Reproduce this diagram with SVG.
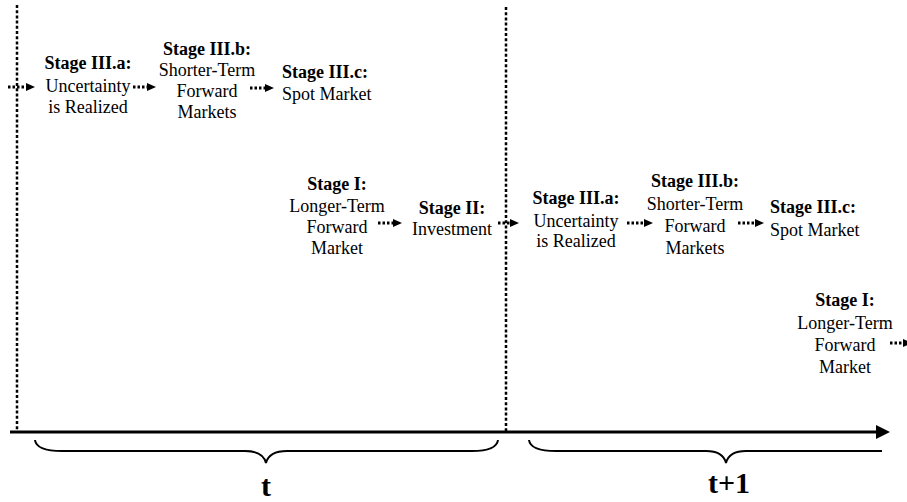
<svg xmlns="http://www.w3.org/2000/svg" width="907" height="502" viewBox="0 0 907 502" font-family="'Liberation Serif', 'Times New Roman', Times, serif">
<defs>
<style>
text{font-family:'Liberation Serif','Times New Roman',Times,serif;font-size:18px;fill:#000}
.b{font-weight:bold}
.c{text-anchor:middle}
.big{font-size:30px;font-weight:bold;text-anchor:middle}
.arr{stroke:#000;stroke-width:3;stroke-dasharray:2.5 2;fill:none}
.vdiv{stroke:#000;stroke-width:2.5;stroke-dasharray:3 2.2;fill:none}
.axis{stroke:#000;stroke-width:3;fill:none}
.brace{stroke:#000;stroke-width:2;fill:none}
</style>
<marker id="ah" markerUnits="userSpaceOnUse" markerWidth="10" markerHeight="10" refX="0" refY="4" orient="auto" viewBox="0 0 10 8">
<path d="M0,0 L9,4 L0,8 z" fill="#000"/>
</marker>
<marker id="axh" markerUnits="userSpaceOnUse" markerWidth="14" markerHeight="14" refX="0" refY="7" orient="auto" viewBox="0 0 14 14">
<path d="M0,0 L14,7 L0,14 z" fill="#000"/>
</marker>
</defs>
<rect width="907" height="502" fill="#fff"/>

<g id="timeline">
<line class="vdiv" x1="17" y1="5" x2="17" y2="432"/>
<line class="vdiv" x1="506" y1="7" x2="506" y2="432"/>
<line class="axis" x1="10" y1="432" x2="876" y2="432" marker-end="url(#axh)"/>
<path class="brace" d="M35,440 C36,448 45,451 62,451 L245,451 C258,451 264,455 266,463 C268,455 274,451 287,451 L472,451 C488,451 497,448 498,440"/>
<path class="brace" d="M529,440 C530,448 539,451 556,451 L706,451 C718,451 724,455 726,463 C728,455 734,451 746,451 L882,451"/>
<text class="big" x="266" y="496">t</text>
<text class="big" x="729" y="493">t+1</text>
</g>

<g id="connectors">
<line class="arr" x1="8" y1="87" x2="26" y2="87" marker-end="url(#ah)"/>
<line class="arr" x1="133" y1="87" x2="147" y2="87" marker-end="url(#ah)"/>
<line class="arr" x1="250" y1="88" x2="265" y2="88" marker-end="url(#ah)"/>
<line class="arr" x1="378" y1="223" x2="393" y2="223" marker-end="url(#ah)"/>
<line class="arr" x1="498" y1="223" x2="510" y2="223" marker-end="url(#ah)"/>
<line class="arr" x1="627" y1="223" x2="644" y2="223" marker-end="url(#ah)"/>
<line class="arr" x1="738" y1="223" x2="755" y2="223" marker-end="url(#ah)"/>
<line class="arr" x1="890" y1="343" x2="903" y2="343" marker-end="url(#ah)"/>
</g>

<g id="t-stage3a">
<text class="b c" x="88" y="69">Stage III.a:</text>
<text class="c" x="88" y="92">Uncertainty</text>
<text class="c" x="88" y="113">is Realized</text>
</g>
<g id="t-stage3b">
<text class="b c" x="207" y="55">Stage III.b:</text>
<text class="c" x="207" y="76">Shorter-Term</text>
<text class="c" x="207" y="97">Forward</text>
<text class="c" x="207" y="118">Markets</text>
</g>
<g id="t-stage3c">
<text class="b" x="282" y="78">Stage III.c:</text>
<text x="282" y="100">Spot Market</text>
</g>
<g id="t-stage1">
<text class="b c" x="337" y="190">Stage I:</text>
<text class="c" x="337" y="212">Longer-Term</text>
<text class="c" x="337" y="233">Forward</text>
<text class="c" x="337" y="254">Market</text>
</g>
<g id="t-stage2">
<text class="b c" x="452" y="214">Stage II:</text>
<text class="c" x="452" y="235">Investment</text>
</g>
<g id="t1-stage3a">
<text class="b c" x="576" y="204">Stage III.a:</text>
<text class="c" x="576" y="227">Uncertainty</text>
<text class="c" x="576" y="247">is Realized</text>
</g>
<g id="t1-stage3b">
<text class="b c" x="695" y="187">Stage III.b:</text>
<text class="c" x="695" y="210">Shorter-Term</text>
<text class="c" x="695" y="232">Forward</text>
<text class="c" x="695" y="254">Markets</text>
</g>
<g id="t1-stage3c">
<text class="b" x="770" y="213">Stage III.c:</text>
<text x="770" y="236">Spot Market</text>
</g>
<g id="t1-stage1">
<text class="b c" x="845" y="306">Stage I:</text>
<text class="c" x="845" y="329">Longer-Term</text>
<text class="c" x="845" y="351">Forward</text>
<text class="c" x="845" y="373">Market</text>
</g>
</svg>
